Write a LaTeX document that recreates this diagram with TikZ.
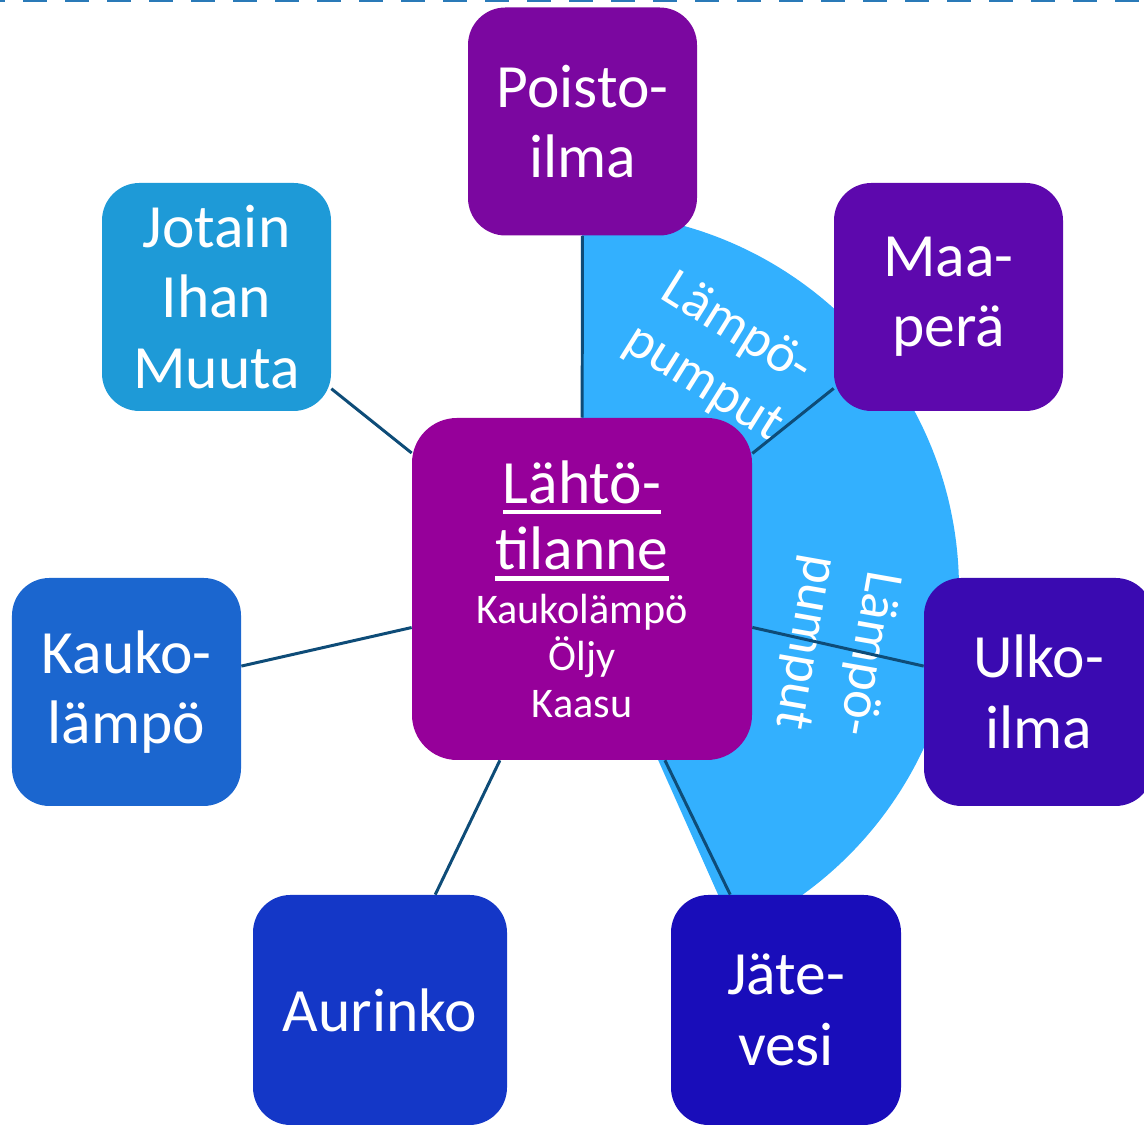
\documentclass[tikz,border=0pt]{standalone}
\usepackage{fontspec}
\setmainfont{Carlito}

\newsavebox{\ulbox}
\newcommand{\thickul}[1]{\sbox{\ulbox}{#1}\rlap{\rule[-6.4pt]{\wd\ulbox}{2.8pt}}\usebox{\ulbox}}
\newcommand{\titlefont}{\fontsize{35}{36.3}\selectfont}

\definecolor{colPoisto}{HTML}{7B07A0}
\definecolor{colJotain}{HTML}{1E9AD7}
\definecolor{colMaa}{HTML}{5D08AD}
\definecolor{colStart}{HTML}{96009A}
\definecolor{colKauko}{HTML}{1B66CF}
\definecolor{colUlko}{HTML}{3A0AB1}
\definecolor{colAurinko}{HTML}{1437C7}
\definecolor{colJate}{HTML}{190DBA}
\definecolor{colSector}{HTML}{33B0FE}
\definecolor{colLink}{HTML}{0E4C78}
\definecolor{colDash}{HTML}{2A7AB8}

\begin{document}
\begin{tikzpicture}[
  box/.style={rounded corners=0.75cm, minimum width=4.58cm, minimum height=4.56cm, inner sep=0pt, text=white, align=center, font=\fontsize{35}{40}\selectfont},
  big_box/.style={box, rounded corners=0.9cm, minimum width=6.8cm, minimum height=6.84cm, font=\fontsize{24}{26.5}\selectfont},
  link/.style={draw=colLink, line width=1.7pt},
  sector/.style={fill=colSector},
  arc_label/.style={text=white, align=center, font=\fontsize{31}{36}\selectfont},
  top_line/.style={draw=colDash, line width=2.3pt, dash pattern=on 0.48cm off 0.36cm, dash phase=0.38cm}
  ]
	\useasboundingbox (0,0) rectangle (22.88,22.5);
	\draw[top_line] (0,22.5) -- (22.88,22.5);

	\coordinate (mid) at (11.64,10.72);
	\fill[sector] (mid) -- ++(90:7.54) arc[start angle=90, end angle=-66, radius=7.54cm] -- cycle;

	\node[big_box, fill=colStart] (start) at (mid) {\titlefont\thickul{Lähtö-}\\[6pt]\titlefont\thickul{tilanne}\\[4.5pt]Kaukolämpö\\Öljy\\Kaasu};

	\node[box, fill=colPoisto] (poisto) at (11.65,20.07) {Poisto-\\ilma};
	\node[box, fill=colJotain] (jotain) at (4.33,16.56) {Jotain\\Ihan\\Muuta};
	\node[box, fill=colMaa] (maa) at (18.97,16.56) {Maa-\\perä};
	\node[box, fill=colKauko] (kauko) at (2.53,8.66) {Kauko-\\lämpö};
	\node[box, fill=colUlko] (ulko) at (20.77,8.66) {Ulko-\\ilma};
	\node[box, fill=colAurinko, minimum width=5.08cm, minimum height=4.6cm] (aurinko) at (7.60,2.30) {Aurinko};
	\node[box, fill=colJate, minimum width=4.6cm, minimum height=4.6cm] (jate) at (15.72,2.30) {Jäte-\\vesi};

	\node[arc_label, rotate=-32] (lbl_top) at (14.4,15.36) {Lämpö-\\pumput};
	\node[arc_label, rotate=-100] (lbl_right) at (16.72,9.54) {Lämpö-\\pumput};

	\draw[link] (start) -- (poisto);
	\draw[link] (start) -- (jotain);
	\draw[link] (start) -- (maa);
	\draw[link] (start) -- (kauko);
	\draw[link] (start) -- (ulko);
	\draw[link] (start) -- (aurinko);
	\draw[link] (start) -- (jate);
\end{tikzpicture}
\end{document}
